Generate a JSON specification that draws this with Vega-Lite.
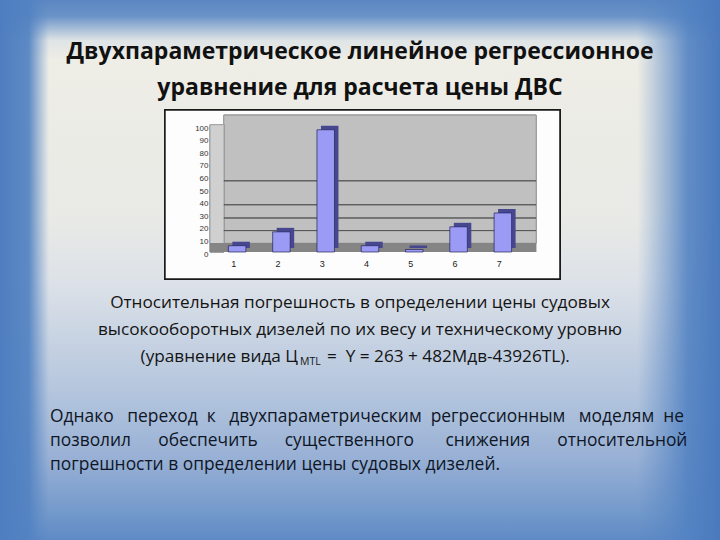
{
  "$schema": "https://vega.github.io/schema/vega-lite/v6.json",
  "width": 720,
  "height": 540,
  "padding": 0,
  "autosize": {"type": "none"},
  "background": "#e8e9e6",
  "config": {"view": {"stroke": null}, "font": "Open Sans"},
  "resolve": {"scale": {"x": "independent", "y": "independent"}},
  "layer": [
    {
      "data": {"values": [{"bg": 1}]},
      "mark": {"type": "rect", "fill": {"gradient": "linear", "x1": 0, "y1": 0, "x2": 0, "y2": 1, "stops": [
        {"offset": 0, "color": "#5a86c1"},
        {"offset": 0.03, "color": "#6a93c8"},
        {"offset": 0.075, "color": "#dfe4e6"},
        {"offset": 0.11, "color": "#eeede6"},
        {"offset": 0.4, "color": "#e9eae6"},
        {"offset": 0.52, "color": "#dde2e8"},
        {"offset": 0.62, "color": "#c9d4e3"},
        {"offset": 0.75, "color": "#afc2dc"},
        {"offset": 0.85, "color": "#98b0d5"},
        {"offset": 0.95, "color": "#7399cb"},
        {"offset": 1, "color": "#5f8ac5"}
      ]}},
      "encoding": {}
    },
    {
      "data": {"values": [{"bg": 2}]},
      "mark": {"type": "rect", "fill": {"gradient": "linear", "x1": 0, "y1": 0, "x2": 1, "y2": 0, "stops": [
        {"offset": 0, "color": "rgba(78,126,192,1)"},
        {"offset": 0.04, "color": "rgba(82,130,194,0.92)"},
        {"offset": 0.068, "color": "rgba(90,136,196,0)"},
        {"offset": 0.885, "color": "rgba(90,136,196,0)"},
        {"offset": 0.955, "color": "rgba(82,130,194,0.9)"},
        {"offset": 1, "color": "rgba(74,122,190,1)"}
      ]}},
      "encoding": {}
    },
    {
      "data": {"values": [
        {"n": 1, "v": 5},
        {"n": 2, "v": 16},
        {"n": 3, "v": 97},
        {"n": 4, "v": 5},
        {"n": 5, "v": 2},
        {"n": 6, "v": 20},
        {"n": 7, "v": 31}
      ]},
      "layer": [
        {
          "mark": {"type": "rect", "fill": "#fdfdfd", "stroke": "#1a1a1a", "strokeWidth": 1.5},
          "encoding": {
            "x": {"datum": -0.63, "scale": {"domain": [0.5, 7.5], "range": [215, 525], "padding": 0, "nice": false, "zero": false}},
            "x2": {"datum": 8.29},
            "y": {"datum": -21.4, "scale": {"domain": [0, 100], "range": [252, 126], "padding": 0, "nice": false, "zero": false}},
            "y2": {"datum": 112.7}
          }
        },
        {
          "mark": {"type": "rect", "fill": "#c0c0c0", "stroke": "#9a9a9a", "strokeWidth": 0.8},
          "encoding": {"x": {"datum": 0.7}, "x2": {"datum": 7.75}, "y": {"datum": 7}, "y2": {"datum": 108.5}}
        },
        {
          "mark": {"type": "rect", "fill": "#d0d0d0", "stroke": "#9a9a9a", "strokeWidth": 0.6},
          "encoding": {"x": {"datum": 0.39}, "x2": {"datum": 0.7}, "y": {"datum": 0}, "y2": {"datum": 101}}
        },
        {
          "mark": {"type": "rect", "fill": "#858585"},
          "encoding": {"x": {"datum": 0.39}, "x2": {"datum": 7.75}, "y": {"datum": 0}, "y2": {"datum": 7}}
        },
        {
          "data": {"values": [{"g": 17}, {"g": 27}, {"g": 37.5}, {"g": 56.5}]},
          "mark": {"type": "rect", "fill": "#555555", "stroke": "#555555", "strokeWidth": 0.9},
          "encoding": {"x": {"datum": 0.7}, "x2": {"datum": 7.75}, "y": {"field": "g", "type": "quantitative"}, "y2": {"field": "g"}}
        },
        {
          "mark": {"type": "bar", "color": "#474790", "width": 17.5, "xOffset": 4, "yOffset": -4},
          "encoding": {
            "x": {"field": "n", "type": "quantitative"},
            "y": {"field": "v", "type": "quantitative"}
          }
        },
        {
          "mark": {"type": "bar", "color": "#9b9bf5", "stroke": "#22225a", "strokeWidth": 0.7, "width": 17.5},
          "encoding": {
            "x": {"field": "n", "type": "quantitative",
              "axis": {"orient": "bottom", "offset": -287, "zindex": 2, "values": [1, 2, 3, 4, 5, 6, 7], "format": "d", "title": null, "domain": false, "ticks": false, "grid": false, "labelFont": "Liberation Sans", "labelFontSize": 9, "labelColor": "#222", "labelPadding": 6, "labelOffset": -4}},
            "y": {"field": "v", "type": "quantitative",
              "axis": {"orient": "left", "offset": -210, "zindex": 2, "values": [0, 10, 20, 30, 40, 50, 60, 70, 80, 90, 100], "title": null, "domain": false, "ticks": false, "grid": false, "labelFont": "Liberation Sans", "labelFontSize": 8, "labelColor": "#333", "labelPadding": 2, "labelOffset": 2}}
          }
        }
      ]
    },
    {
      "data": {"values": [
        {"line": 1, "text": "Двухпараметрическое линейное регрессионное"},
        {"line": 2, "text": "уравнение для расчета цены ДВС"}
      ]},
      "mark": {"type": "text", "font": "Open Sans", "fontWeight": "bold", "fontSize": 23, "color": "#111111", "align": "center", "baseline": "middle"},
      "encoding": {
        "text": {"field": "text"},
        "y": {"field": "line", "type": "quantitative", "scale": {"domain": [1, 2], "range": [52, 88], "nice": false, "zero": false}, "axis": null}
      }
    },
    {
      "data": {"values": [
        {"line": 1, "text": "Относительная погрешность в определении цены судовых"},
        {"line": 2, "text": "высокооборотных дизелей по их весу и техническому уровню"}
      ]},
      "mark": {"type": "text", "font": "Open Sans", "fontSize": 17.2, "color": "#141414", "align": "center", "baseline": "middle"},
      "encoding": {
        "text": {"field": "text"},
        "y": {"field": "line", "type": "quantitative", "scale": {"domain": [1, 3], "range": [303, 357], "nice": false, "zero": false}, "axis": null}
      }
    },
    {
      "data": {"values": [{"line": 3, "text": "(уравнение вида Ц"}]},
      "mark": {"type": "text", "font": "Open Sans", "fontSize": 17.2, "color": "#141414", "align": "right", "baseline": "middle", "dx": -62},
      "encoding": {
        "text": {"field": "text"},
        "y": {"field": "line", "type": "quantitative", "scale": {"domain": [1, 3], "range": [303, 357], "nice": false, "zero": false}, "axis": null}
      }
    },
    {
      "data": {"values": [{"line": 3, "text": "MTL"}]},
      "mark": {"type": "text", "font": "Open Sans", "fontSize": 10.5, "color": "#141414", "align": "left", "baseline": "middle", "dx": -60, "dy": 5},
      "encoding": {
        "text": {"field": "text"},
        "y": {"field": "line", "type": "quantitative", "scale": {"domain": [1, 3], "range": [303, 357], "nice": false, "zero": false}, "axis": null}
      }
    },
    {
      "data": {"values": [{"line": 3, "text": "=\u00a0 Y = 263 + 482Мдв-43926TL)."}]},
      "mark": {"type": "text", "font": "Open Sans", "fontSize": 17.2, "color": "#141414", "align": "left", "baseline": "middle", "dx": -33},
      "encoding": {
        "text": {"field": "text"},
        "y": {"field": "line", "type": "quantitative", "scale": {"domain": [1, 3], "range": [303, 357], "nice": false, "zero": false}, "axis": null}
      }
    },
    {
      "data": {"values": [
        {"line": 1, "text": "Однако \u00a0\u00a0переход \u00a0к \u00a0\u00a0двухпараметрическим \u00a0регрессионным \u00a0\u00a0моделям \u00a0не"},
        {"line": 2, "text": "позволил \u00a0\u00a0\u00a0\u00a0\u00a0обеспечить \u00a0\u00a0\u00a0\u00a0\u00a0существенного \u00a0\u00a0\u00a0\u00a0\u00a0\u00a0снижения \u00a0\u00a0\u00a0\u00a0\u00a0относительной"},
        {"line": 3, "text": "погрешности в определении цены судовых дизелей."}
      ]},
      "mark": {"type": "text", "font": "Open Sans", "fontSize": 17.4, "color": "#0f1626", "align": "left", "baseline": "middle", "dx": -310},
      "encoding": {
        "text": {"field": "text"},
        "y": {"field": "line", "type": "quantitative", "scale": {"domain": [1, 3], "range": [417, 465], "nice": false, "zero": false}, "axis": null}
      }
    }
  ]
}
